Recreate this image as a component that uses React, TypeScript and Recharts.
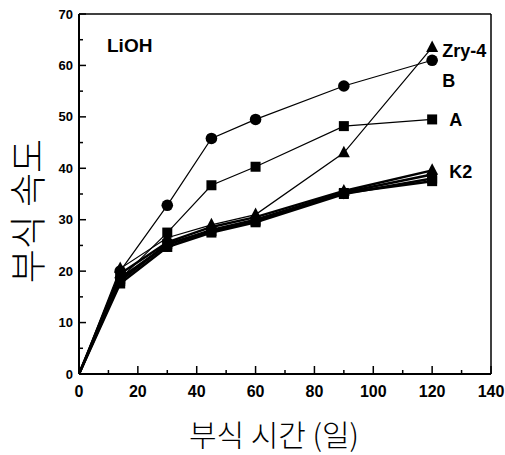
import React from 'react';
import { LineChart, Line, XAxis, YAxis, LabelList, Label, ReferenceLine } from 'recharts';

const days = [0, 14, 30, 45, 60, 90, 120];
const zry4 = [0, 20.5, 26.5, 29.0, 31.0, 43.0, 63.5];
const alloyB = [0, 20.0, 32.8, 45.8, 49.5, 56.0, 61.0];
const alloyA = [0, 18.5, 27.5, 36.7, 40.3, 48.2, 49.5];
const k2 = [0, 19.5, 25.6, 28.6, 30.5, 35.6, 39.6];
const k2b = [0, 18.6, 25.1, 28.0, 30.0, 35.3, 38.8];
const k2c = [0, 17.6, 24.7, 27.5, 29.5, 35.0, 38.0];
const k2d = [0, 18.1, 25.3, 27.8, 29.8, 35.2, 37.5];

const xTicks = [0, 10, 20, 30, 40, 50, 60, 70, 80, 90, 100, 110, 120, 130, 140];
const yTicks = [0, 5, 10, 15, 20, 25, 30, 35, 40, 45, 50, 55, 60, 65, 70];

const seriesLabels = { zry4: 'Zry-4', b: 'B', a: 'A', k2: 'K2' };
const envLabel = 'LiOH';
const xTitle = '부식 시간 (일)';
const yTitle = '부식 속도';

const data = days.map((d, i) => ({
  day: d,
  zry4: zry4[i],
  b: alloyB[i],
  a: alloyA[i],
  k2: k2[i],
  k2b: k2b[i],
  k2c: k2c[i],
  k2d: k2d[i],
}));

const TICK_FONT = '"Liberation Sans", Arial, sans-serif';
const KR_FONT = '"Noto Sans CJK KR", sans-serif';

const XTick = (props: any) => {
  const { x, y, payload } = props;
  const major = payload.value % 20 === 0;
  return (
    <g>
      <line x1={x} x2={x} y1={y} y2={y - (major ? 8 : 4)} stroke="#000" strokeWidth={1.5} />
      {major && (
        <text x={x} y={y + 23} textAnchor="middle" fontFamily={TICK_FONT} fontWeight="bold" fontSize={16} fill="#000">
          {payload.value}
        </text>
      )}
    </g>
  );
};

const YTick = (props: any) => {
  const { x, y, payload } = props;
  const major = payload.value % 10 === 0;
  return (
    <g>
      <line x1={x} x2={x + (major ? 7 : 4)} y1={y} y2={y} stroke="#000" strokeWidth={1.5} />
      {major && (
        <text x={x - 6} y={y + 4.5} textAnchor="end" fontFamily={TICK_FONT} fontWeight="bold" fontSize={13} fill="#000">
          {payload.value}
        </text>
      )}
    </g>
  );
};

const makeDot = (shape: string) => (p: any) => {
  const { cx, cy, index } = p;
  if (index === 0 || cx == null || cy == null) return <g key={`d${index}`} />;
  if (shape === 'circle') return <circle key={`d${index}`} cx={cx} cy={cy} r={5.8} fill="#000" />;
  if (shape === 'square') return <rect key={`d${index}`} x={cx - 5} y={cy - 5} width={10} height={10} fill="#000" />;
  if (shape === 'diamond')
    return <path key={`d${index}`} d={`M${cx},${cy - 7} L${cx + 4.5},${cy} L${cx},${cy + 7} L${cx - 4.5},${cy} Z`} fill="#000" />;
  return <path key={`d${index}`} d={`M${cx},${cy - 7} L${cx + 6},${cy + 4.5} L${cx - 6},${cy + 4.5} Z`} fill="#000" />;
};

const endLabel = (text: string, dx: number, dy: number) => (p: any) => {
  if (p.index !== days.length - 1) return null;
  return (
    <text x={p.x + dx} y={p.y + dy} fontFamily={TICK_FONT} fontWeight="bold" fontSize={18} fill="#000">
      {text}
    </text>
  );
};

export default function App() {
  return (
    <div style={{ position: 'absolute', left: 0, top: 0, width: 505, height: 455, background: '#fff' }}>
      <LineChart width={505} height={455} data={data} margin={{ top: 14, right: 14, left: 39, bottom: 51 }}>
        <XAxis
          dataKey="day"
          type="number"
          domain={[0, 140]}
          ticks={xTicks}
          height={30}
          tickSize={0}
          tickMargin={0}
          tickLine={false}
          tick={<XTick />}
          axisLine={{ stroke: '#000', strokeWidth: 2 }}
          interval={0}
        >
          <Label
            content={(lp: any) => {
              const vb = lp.viewBox || { x: 79, y: 374, width: 412 };
              return (
                <text x={vb.x + vb.width / 2 - 11} y={vb.y + 59} textAnchor="middle" dominantBaseline="central" fontFamily={KR_FONT} fontWeight={300} fontSize={30} fill="#000">
                  {xTitle}
                </text>
              );
            }}
          />
        </XAxis>
        <YAxis
          type="number"
          domain={[0, 70]}
          ticks={yTicks}
          width={40}
          tickSize={0}
          tickMargin={0}
          tickLine={false}
          tick={<YTick />}
          axisLine={{ stroke: '#000', strokeWidth: 2 }}
          interval={0}
        >
          <Label
            content={(lp: any) => {
              const vb = lp.viewBox || { x: 39, y: 14, width: 40, height: 360 };
              const ax = vb.x + vb.width;
              return (
                <g>
                  <text
                    transform={`translate(${ax - 53},${vb.y + vb.height / 2 + 17}) rotate(-90)`}
                    textAnchor="middle"
                    dominantBaseline="central"
                    fontFamily={KR_FONT}
                    fontWeight={300}
                    fontSize={37}
                    fill="#000"
                  >
                    {yTitle}
                  </text>
                  <text x={ax + 28} y={vb.y + 38} fontFamily={TICK_FONT} fontWeight="bold" fontSize={19} fill="#000">
                    {envLabel}
                  </text>
                </g>
              );
            }}
          />
        </YAxis>
        <ReferenceLine y={70} stroke="#000" strokeWidth={1.5} />
        <ReferenceLine x={140} stroke="#000" strokeWidth={1.5} />

        <Line dataKey="k2d" stroke="#000" strokeWidth={2.5} dot={makeDot('square')} isAnimationActive={false} />
        <Line dataKey="k2c" stroke="#000" strokeWidth={2.5} dot={makeDot('square')} isAnimationActive={false} />
        <Line dataKey="k2b" stroke="#000" strokeWidth={2.5} dot={makeDot('diamond')} isAnimationActive={false} />
        <Line dataKey="k2" stroke="#000" strokeWidth={2.5} dot={makeDot('triangle')} isAnimationActive={false}>
          <LabelList dataKey="k2" content={endLabel(seriesLabels.k2, 17, 8)} />
        </Line>
        <Line dataKey="a" stroke="#000" strokeWidth={1.2} dot={makeDot('square')} isAnimationActive={false}>
          <LabelList dataKey="a" content={endLabel(seriesLabels.a, 17, 7)} />
        </Line>
        <Line dataKey="b" stroke="#000" strokeWidth={1.2} dot={makeDot('circle')} isAnimationActive={false}>
          <LabelList dataKey="b" content={endLabel(seriesLabels.b, 10, 27)} />
        </Line>
        <Line dataKey="zry4" stroke="#000" strokeWidth={1.2} dot={makeDot('triangle')} isAnimationActive={false}>
          <LabelList dataKey="zry4" content={endLabel(seriesLabels.zry4, 10, 10)} />
        </Line>
      </LineChart>
    </div>
  );
}
